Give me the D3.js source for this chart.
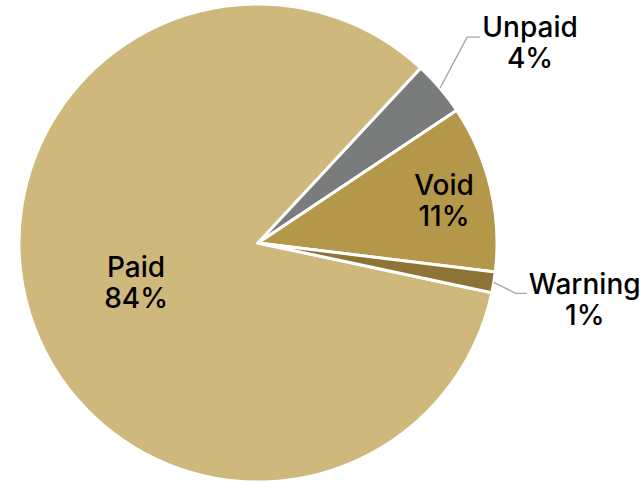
<!DOCTYPE html>
<html>
<head>
<meta charset="utf-8">
<script src="https://cdn.jsdelivr.net/npm/d3@7"></script>
<style>
  body { margin: 0; background: #fff; }
  text { font-family: Inter, "Noto Sans", sans-serif; fill: #000; }
</style>
</head>
<body>
<div id="chart"></div>
<script>
const categories = ["Paid", "Unpaid", "Void", "Warning"];
const values = [83.6, 3.7, 11.3, 1.4];
const pctLabels = ["84%", "4%", "11%", "1%"];
const colors = ["#CFB87C", "#7A7C7B", "#B5974A", "#8D7336"];

const width = 644, height = 483;
const cx = 258, cy = 243, radius = 239;

const svg = d3.select("#chart").append("svg")
  .attr("width", width)
  .attr("height", height);

const g = svg.append("g").attr("transform", `translate(${cx},${cy})`);

const data = categories.map((c, i) => ({ name: c, value: values[i], pct: pctLabels[i], color: colors[i] }));

const start = 102 * Math.PI / 180;
const pie = d3.pie().sort(null).value(d => d.value)
  .startAngle(start).endAngle(start + 2 * Math.PI);
const arcs = pie(data);

const arc = d3.arc().innerRadius(0).outerRadius(radius);

g.selectAll("path.slice")
  .data(arcs)
  .join("path")
  .attr("class", "slice")
  .attr("d", arc)
  .attr("fill", d => d.data.color)
  .attr("stroke", "#fff")
  .attr("stroke-width", 3)
  .attr("stroke-linejoin", "round");

// inside labels (Paid, Void): fraction of radius along slice mid-angle
const inside = { Paid: 0.535, Void: 0.80 };
// outside labels with leader lines
const outside = { Unpaid: { dx: 27, dy: -51, run: 13, tx: 50, oy: 4 }, Warning: { dx: 22, dy: 11, run: 11, tx: 58, oy: 5 } };

arcs.forEach(d => {
  const mid = (d.startAngle + d.endAngle) / 2;
  const name = d.data.name;
  let lx, ly;
  if (inside[name]) {
    const r = radius * inside[name];
    lx = r * Math.sin(mid);
    ly = -r * Math.cos(mid);
  } else {
    const o = outside[name];
    const px = radius * Math.sin(mid), py = -radius * Math.cos(mid);
    const ex = px + o.dx, ey = py + o.dy;
    g.append("polyline")
      .attr("points", [[px, py], [ex, ey], [ex + o.run, ey]].map(p => p.join(",")).join(" "))
      .attr("fill", "none")
      .attr("stroke", "#A6A6A6")
      .attr("stroke-width", 1.3);
    lx = ex + o.run + o.tx;
    ly = ey + o.oy;
  }
  const t = g.append("text")
    .attr("text-anchor", "middle")
    .attr("font-size", 28)
    .attr("font-weight", 500)
    .attr("x", lx)
    .attr("y", ly - 4);
  t.append("tspan").attr("x", lx).text(name);
  t.append("tspan").attr("x", lx).attr("dy", 31).text(d.data.pct);
});
</script>
</body>
</html>
